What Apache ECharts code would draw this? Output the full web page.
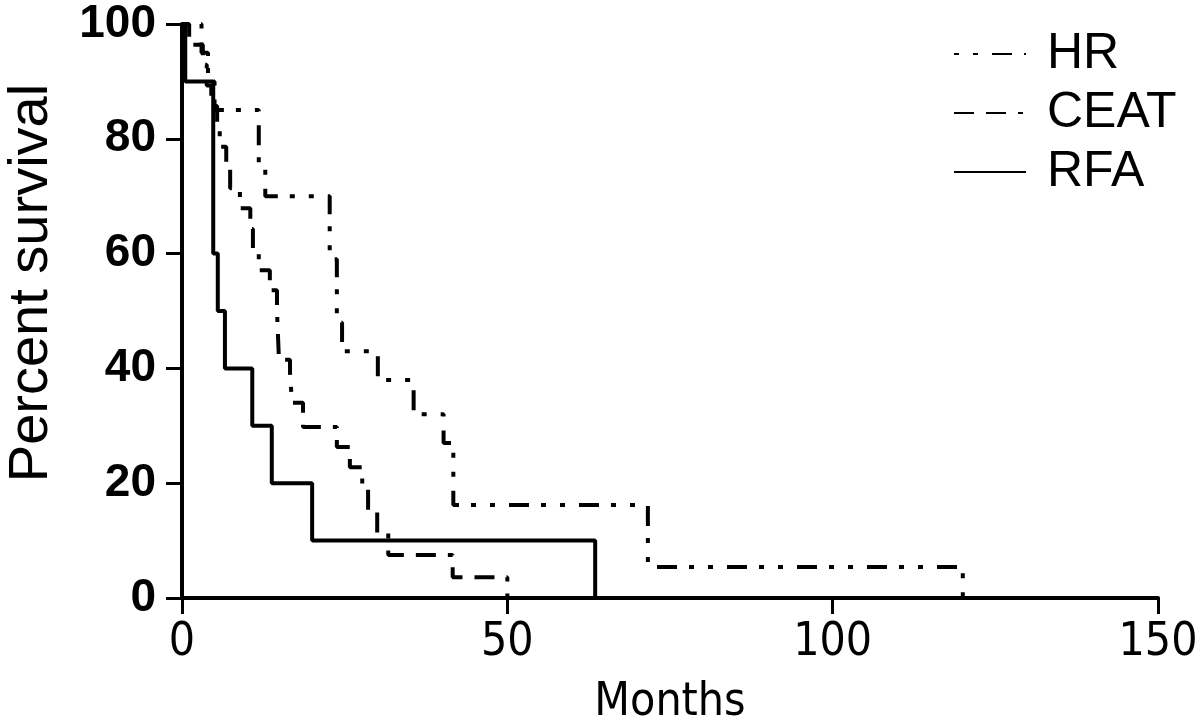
<!DOCTYPE html>
<html>
<head>
<meta charset="utf-8">
<script src="https://cdn.jsdelivr.net/npm/echarts@6/dist/echarts.min.js"></script>
<style>
html,body{margin:0;padding:0;background:#fff;}
#chart{width:1200px;height:724px;}
</style>
</head>
<body>
<div id="chart"></div>
<script>
// Kaplan-Meier step data (months, percent survival)
const hrMonths   = [0, 3, 4, 5, 11.8, 12.8, 22.7, 23.8, 24.6, 30.1, 35.6, 40.2, 41.7, 71.6, 120];
const hrSurvival = [100, 95, 90, 85, 75, 70, 59, 48, 43, 38, 32, 27, 16.2, 5.4, 0];

const ceatMonths   = [0, 1.1, 3.2, 3.8, 4.5, 5.4, 5.8, 6.8, 7.4, 8.9, 10.5, 10.9, 11.8, 13.5, 14.6, 14.9, 16.6, 16.9, 18.6, 23.8, 25.8, 27.7, 28.6, 30.0, 31.7, 41.6, 50];
const ceatSurvival = [100, 96.4, 92.9, 89.3, 85.7, 82.1, 78.6, 75, 71.4, 67.9, 64.3, 60.7, 57.1, 53.6, 50, 41.5, 39.3, 34, 29.8, 26.3, 22.8, 19, 15.3, 11.3, 7.5, 3.6, 0];

const rfaMonths   = [0, 0.5, 4.8, 5.5, 6.6, 10.8, 13.8, 20, 63.5];
const rfaSurvival = [100, 90, 60, 50, 40, 30, 20, 10, 0];

const seriesNames = ['HR', 'CEAT', 'RFA'];
const xTicks = [0, 50, 100, 150];
const yTicks = [0, 20, 40, 60, 80, 100];

function pairs(xs, ys){ return xs.map((x,i)=>[x, ys[i]]); }

const chart = echarts.init(document.getElementById('chart'));
const lw = 4;
const narrow = "'DejaVu Sans Condensed', 'DejaVu Sans', sans-serif";
chart.setOption({
  animation: false,
  backgroundColor: '#fff',
  grid: {left: 182, top: 24, right: 42, bottom: 126, containLabel: false, outerBoundsMode: 'none'},
  legend: {
    data: seriesNames,
    orient: 'vertical',
    left: 948, top: 24,
    itemWidth: 72, itemHeight: 20, itemGap: 9,
    itemStyle: {color: 'transparent', borderWidth: 0},
    textStyle: {fontFamily: 'Liberation Sans, Arial, sans-serif', fontSize: 50, color: '#000', padding: [0,0,0,16]}
  },
  xAxis: {
    type: 'value', min: 0, max: 150, interval: 50,
    name: 'Months', nameLocation: 'middle', nameGap: 82,
    nameTextStyle: {fontFamily: narrow, fontSize: 46, color: '#000'},
    axisLine: {show: true, lineStyle: {color: '#000', width: lw}},
    axisTick: {show: true, inside: false, length: 16, lineStyle: {color: '#000', width: 3}},
    axisLabel: {fontFamily: narrow, fontSize: 46, color: '#000', margin: 22,
      formatter: v => xTicks.includes(v) ? String(v) : ''},
    splitLine: {show: false}
  },
  yAxis: {
    type: 'value', min: 0, max: 100, interval: 20,
    name: 'Percent survival', nameLocation: 'middle', nameGap: 122, nameRotate: 90,
    nameTextStyle: {fontFamily: 'Liberation Sans, Arial, sans-serif', fontSize: 56, color: '#000', padding: [0, 0, 0, 56]},
    axisLine: {show: true, lineStyle: {color: '#000', width: lw}},
    axisTick: {show: true, inside: false, length: 16, lineStyle: {color: '#000', width: 3}},
    axisLabel: {fontFamily: 'Liberation Sans, Arial, sans-serif', fontWeight: 'bold', fontSize: 46, color: '#000', margin: 26,
      formatter: v => yTicks.includes(v) ? String(v) : ''},
    splitLine: {show: false}
  },
  series: [
    {name: 'HR', type: 'line', step: 'end', symbol: 'none', data: pairs(hrMonths, hrSurvival),
     lineStyle: {color: '#000', width: lw, type: [5, 14, 5, 14, 20, 12]}, itemStyle: {color: '#000'}},
    {name: 'CEAT', type: 'line', step: 'end', symbol: 'none', data: pairs(ceatMonths, ceatSurvival),
     lineStyle: {color: '#000', width: lw, type: [20, 12, 20, 12, 5, 12]}, itemStyle: {color: '#000'}},
    {name: 'RFA', type: 'line', step: 'end', symbol: 'none', data: pairs(rfaMonths, rfaSurvival),
     lineStyle: {color: '#000', width: lw, type: 'solid'}, itemStyle: {color: '#000'}}
  ]
});
</script>
</body>
</html>
